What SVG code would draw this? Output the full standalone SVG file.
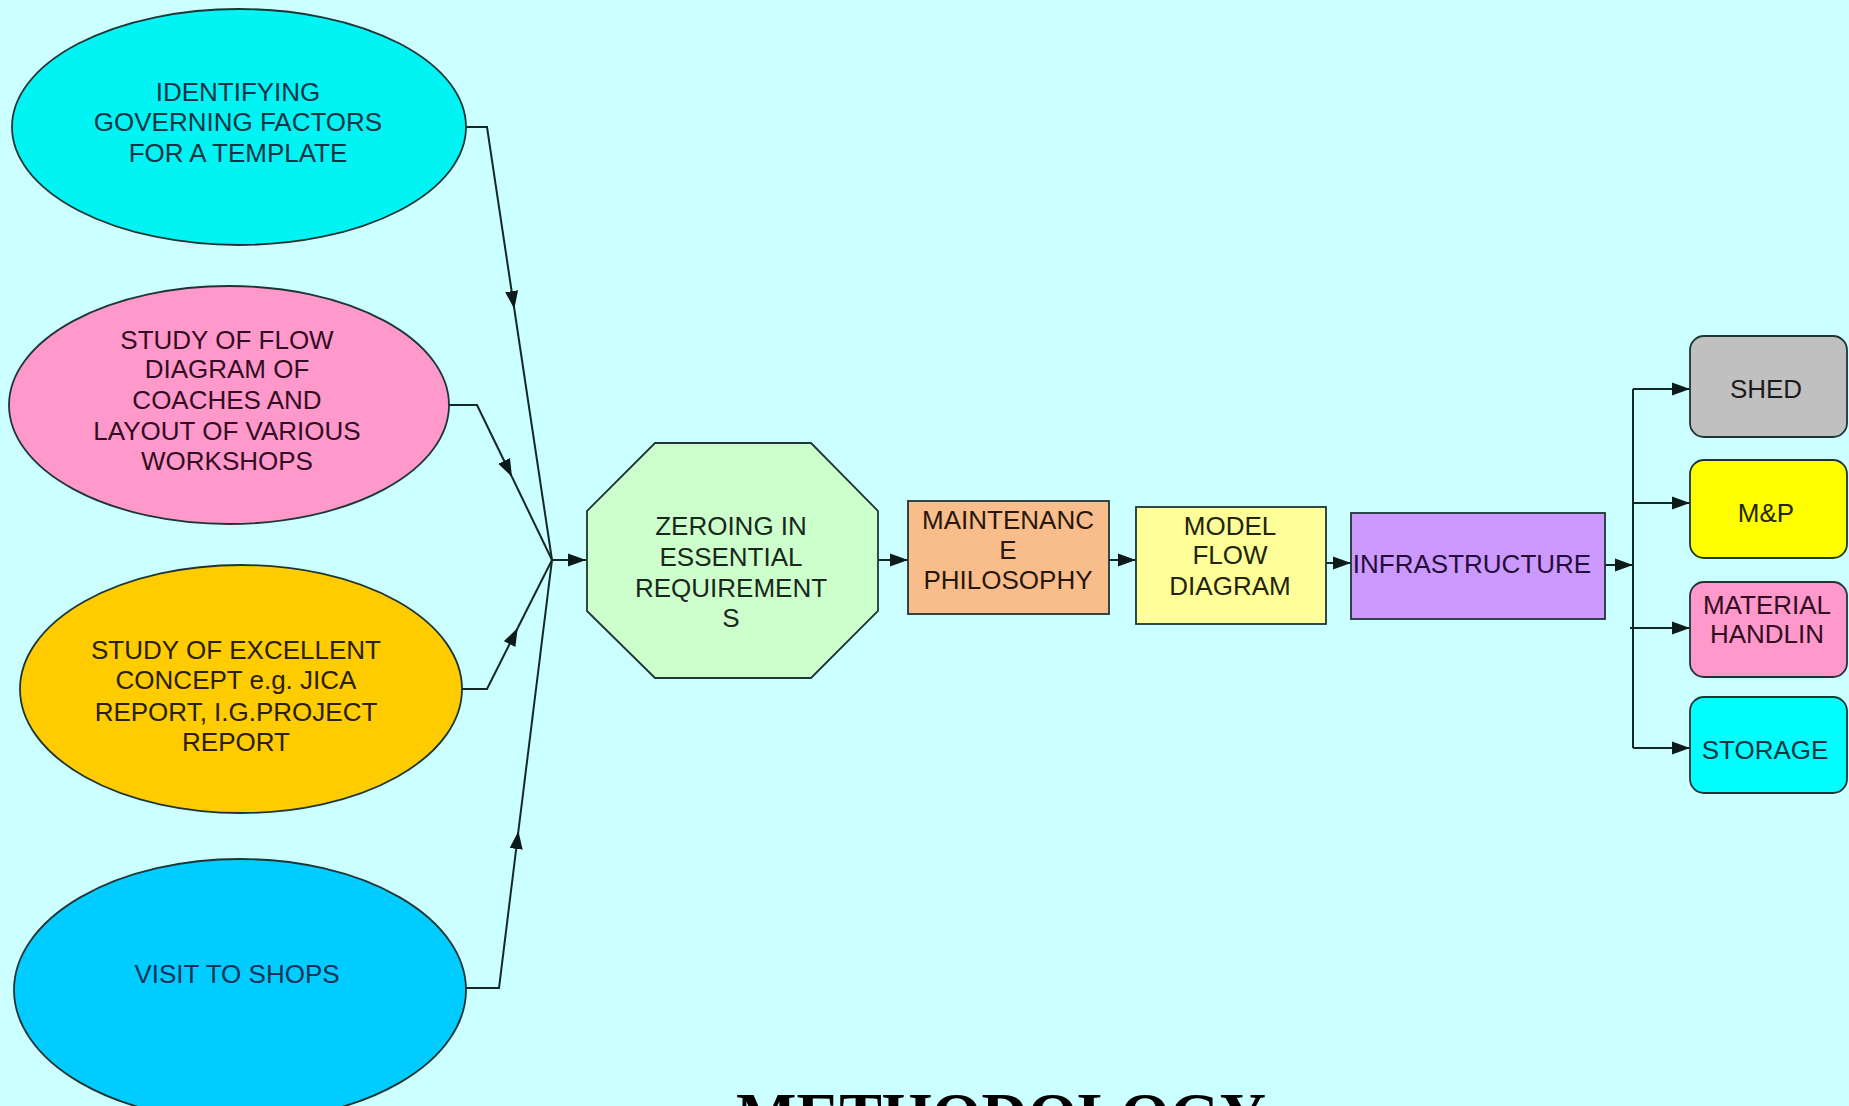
<svg xmlns="http://www.w3.org/2000/svg" width="1849" height="1106" viewBox="0 0 1849 1106">
<defs>
<marker id="arr" markerUnits="userSpaceOnUse" markerWidth="20" markerHeight="14" refX="18" refY="7" orient="auto">
<path d="M0,0.5 L18,7 L0,13.5 z" fill="#0d1a1a"/>
</marker>
<style>
.bg{fill:#CCFFFF}
.sh{stroke:#1e3535;stroke-width:1.8}
.t{font-family:"Liberation Sans",Arial,sans-serif;font-size:26px;text-anchor:middle}
.c{fill:none;stroke:#142828;stroke-width:2}
</style>
</defs>
<rect class="bg" x="0" y="0" width="1849" height="1106"/>

<g id="connectors">
<path class="c" d="M466,127 H487 L514.3,309" marker-end="url(#arr)"/>
<path class="c" d="M514.3,309 L552,560"/>
<path class="c" d="M449,405 H477 L512,477" marker-end="url(#arr)"/>
<path class="c" d="M512,477 L552,560"/>
<path class="c" d="M462,689 H487 L517.7,628" marker-end="url(#arr)"/>
<path class="c" d="M517.7,628 L552,560"/>
<path class="c" d="M466,988 H499 L518.4,831" marker-end="url(#arr)"/>
<path class="c" d="M518.4,831 L552,560"/>
<path class="c" d="M552,560 H586" marker-end="url(#arr)"/>
<path class="c" d="M878,560 H908" marker-end="url(#arr)"/>
<path class="c" d="M1109,560 H1136" marker-end="url(#arr)"/>
<path class="c" d="M1326,563 H1351" marker-end="url(#arr)"/>
<path class="c" d="M1605,565 H1633" marker-end="url(#arr)"/>
<path class="c" d="M1633,389 V748"/>
<path class="c" d="M1633,389 H1690" marker-end="url(#arr)"/>
<path class="c" d="M1633,503 H1690" marker-end="url(#arr)"/>
<path class="c" d="M1630,628 H1690" marker-end="url(#arr)"/>
<path class="c" d="M1633,748 H1690" marker-end="url(#arr)"/>
</g>

<g id="n-identifying">
<ellipse class="sh" cx="239" cy="127" rx="227" ry="118" fill="#00F4F4"/>
<text class="t" fill="#0e3446"><tspan x="238" y="101">IDENTIFYING</tspan><tspan x="238" y="131">GOVERNING FACTORS</tspan><tspan x="238" y="162">FOR A TEMPLATE</tspan></text>
</g>

<g id="n-study-flow">
<ellipse class="sh" cx="229" cy="405" rx="220" ry="119" fill="#FF99CC"/>
<text class="t" fill="#340c22"><tspan x="227" y="349">STUDY OF FLOW</tspan><tspan x="227" y="378">DIAGRAM OF</tspan><tspan x="227" y="409">COACHES AND</tspan><tspan x="227" y="440">LAYOUT OF VARIOUS</tspan><tspan x="227" y="470">WORKSHOPS</tspan></text>
</g>

<g id="n-study-excellent">
<ellipse class="sh" cx="241" cy="689" rx="221" ry="124" fill="#FFCC00"/>
<text class="t" fill="#2a2008"><tspan x="236" y="659">STUDY OF EXCELLENT</tspan><tspan x="236" y="689">CONCEPT e.g. JICA</tspan><tspan x="236" y="721">REPORT, I.G.PROJECT</tspan><tspan x="236" y="751">REPORT</tspan></text>
</g>

<g id="n-visit">
<ellipse class="sh" cx="240" cy="990" rx="226" ry="131" fill="#00CCFF"/>
<text class="t" fill="#0f3358" x="237" y="983">VISIT TO SHOPS</text>
</g>

<g id="n-zeroing">
<polygon class="sh" points="655,443 811,443 878,511 878,611 811,678 655,678 587,611 587,511" fill="#CCFFCC"/>
<text class="t" fill="#18281a"><tspan x="731" y="535">ZEROING IN</tspan><tspan x="731" y="566">ESSENTIAL</tspan><tspan x="731" y="597">REQUIREMENT</tspan><tspan x="731" y="627">S</tspan></text>
</g>

<g id="n-maintenance">
<rect class="sh" x="908" y="501" width="201" height="113" fill="#F9BD8C"/>
<text class="t" fill="#28180c"><tspan x="1008" y="529">MAINTENANC</tspan><tspan x="1008" y="559">E</tspan><tspan x="1008" y="589">PHILOSOPHY</tspan></text>
</g>

<g id="n-model">
<rect class="sh" x="1136" y="507" width="190" height="117" fill="#FFFF99"/>
<text class="t" fill="#24240c"><tspan x="1230" y="535">MODEL</tspan><tspan x="1230" y="564">FLOW</tspan><tspan x="1230" y="595">DIAGRAM</tspan></text>
</g>

<g id="n-infrastructure">
<rect class="sh" x="1351" y="513" width="254" height="106" fill="#CC99FF"/>
<text class="t" fill="#260c3a" x="1472" y="573">INFRASTRUCTURE</text>
</g>

<g id="n-shed">
<rect class="sh" x="1690" y="336" width="157" height="101" rx="14" fill="#C0C0C0"/>
<text class="t" fill="#1c1c1c" x="1766" y="398">SHED</text>
</g>

<g id="n-mp">
<rect class="sh" x="1690" y="460" width="157" height="98" rx="14" fill="#FFFF00"/>
<text class="t" fill="#262600" x="1766" y="522">M&amp;P</text>
</g>

<g id="n-material">
<rect class="sh" x="1690" y="582" width="157" height="95" rx="14" fill="#FF99CC"/>
<text class="t" fill="#340c22"><tspan x="1767" y="614">MATERIAL</tspan><tspan x="1767" y="643">HANDLIN</tspan></text>
</g>

<g id="n-storage">
<rect class="sh" x="1690" y="697" width="157" height="96" rx="14" fill="#00FFFF"/>
<text class="t" fill="#0e3440" x="1765" y="759">STORAGE</text>
</g>

<text x="1001" y="1137" font-family="'Liberation Serif','Times New Roman',serif" font-weight="bold" font-size="64" text-anchor="middle" fill="#000">METHODOLOGY</text>
</svg>
